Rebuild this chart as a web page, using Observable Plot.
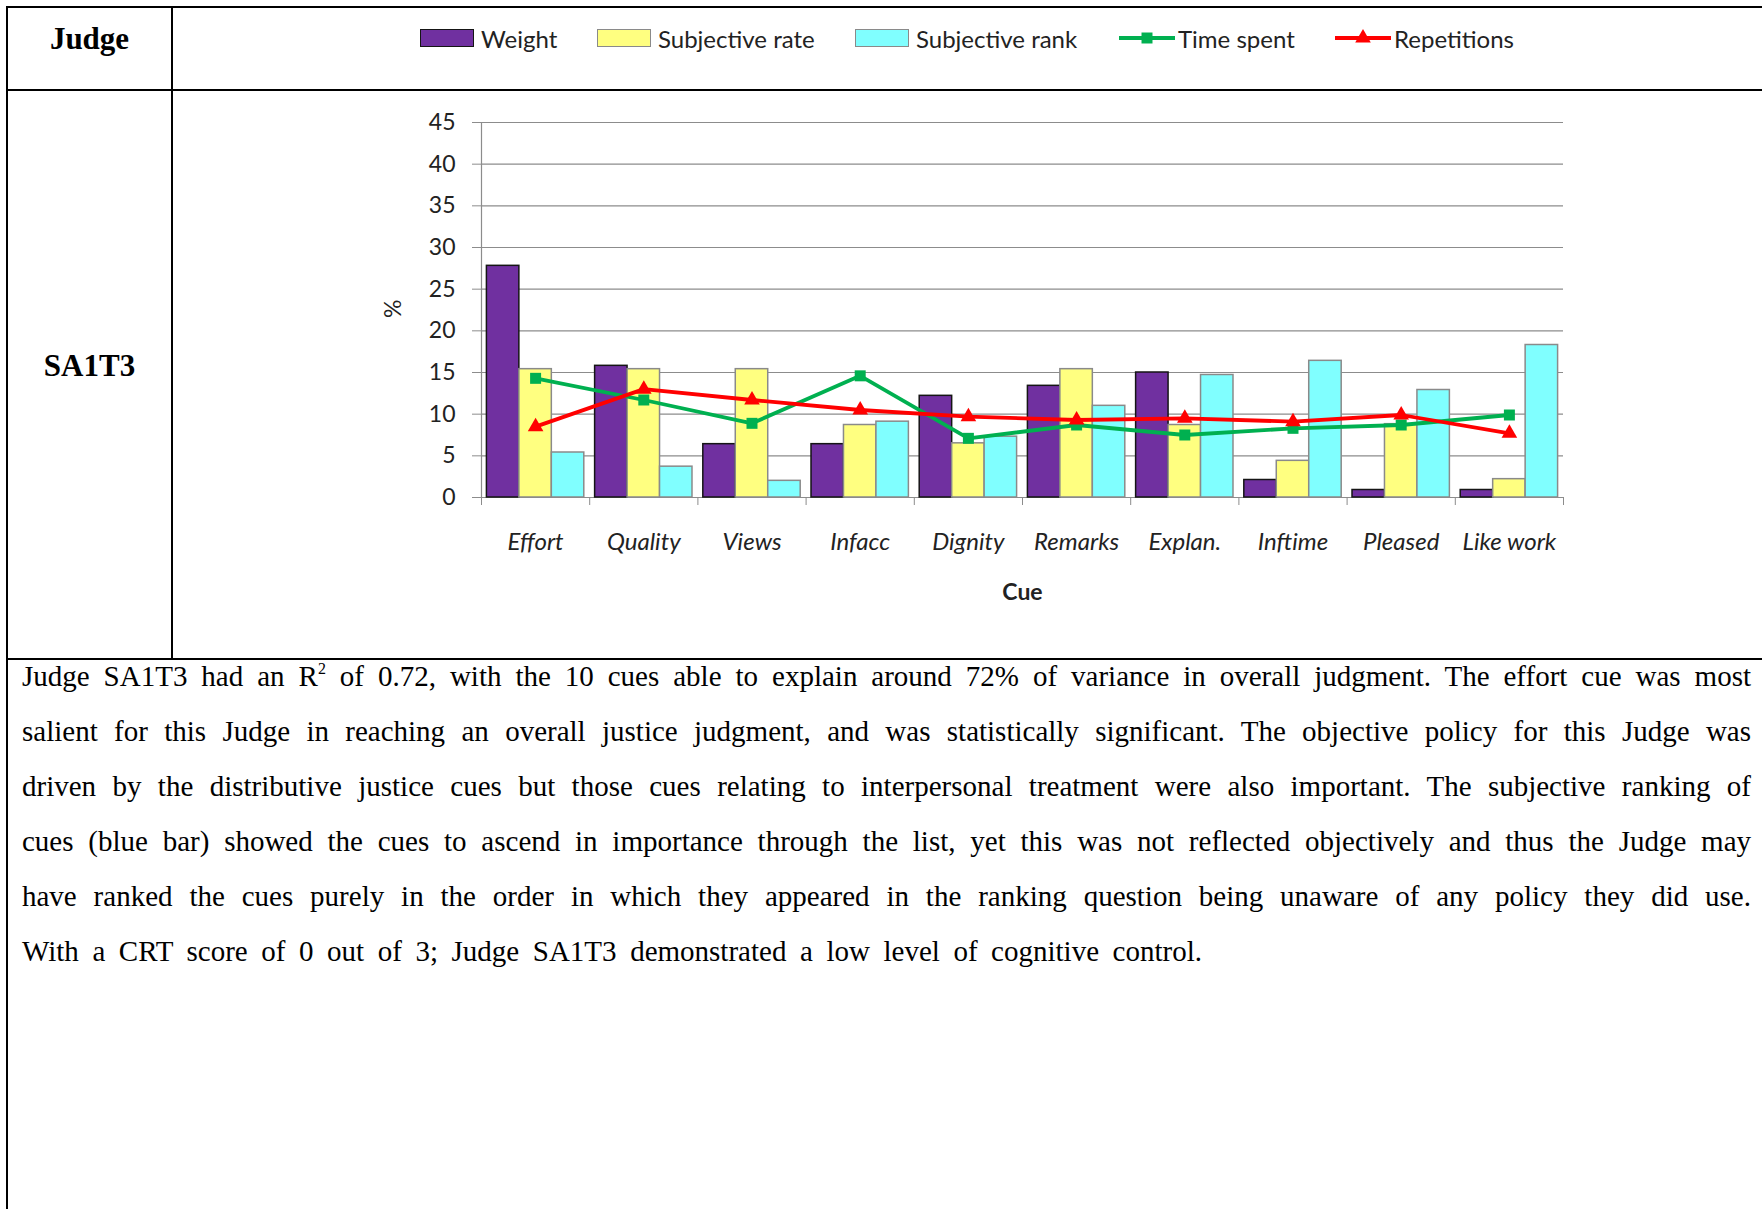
<!DOCTYPE html>
<html>
<head>
<meta charset="utf-8">
<script src="https://cdn.jsdelivr.net/npm/d3@7"></script>
<script src="https://cdn.jsdelivr.net/npm/@observablehq/plot@0.6"></script>
<style>
  html, body { margin: 0; padding: 0; background: #fff; }
  body { width: 1762px; height: 1209px; position: relative; overflow: hidden; }
  .hl { position: absolute; background: #000; }
  .cell { position: absolute; font-family: "Liberation Serif", "Times New Roman", serif; font-weight: bold; font-size: 31px; color: #000; text-align: center; line-height: 1; }
  #legend { position: absolute; left: 0; top: 0; width: 1762px; height: 88px; font-family: Lato, sans-serif; font-size: 24px; color: #222; }
  .li { position: absolute; top: 26px; height: 24px; display: flex; align-items: center; white-space: nowrap; }
  .sw { width: 52px; height: 16px; box-sizing: content-box; margin-right: 7px; }
  #chart { position: absolute; left: 360px; top: 100px; }
  #para { position: absolute; left: 22px; top: 649px; font-family: "Liberation Serif", "Times New Roman", serif; font-size: 29px; line-height: 55px; color: #000; }
  .ln { white-space: nowrap; text-align: justify; text-align-last: justify; }
  .ln sup { font-size: 0.55em; line-height: 0; vertical-align: 0.75em; }
</style>
</head>
<body>
<!-- table rules -->
<div class="hl" style="left:6px; top:6px; width:1756px; height:2px;"></div>
<div class="hl" style="left:6px; top:89px; width:1756px; height:2px;"></div>
<div class="hl" style="left:6px; top:658px; width:1756px; height:2px;"></div>
<div class="hl" style="left:6px; top:6px; width:2px; height:1203px;"></div>
<div class="hl" style="left:171px; top:6px; width:2px; height:654px;"></div>

<div class="cell" style="left:8px; width:163px; top:23px;">Judge</div>
<div class="cell" style="left:8px; width:163px; top:350px;">SA1T3</div>

<div id="legend"></div>
<div id="chart"></div>

<div id="para">
  <div class="ln" style="width:1729px;">Judge SA1T3 had an R<sup>2</sup> of 0.72, with the 10 cues able to explain around 72% of variance in overall judgment. The effort cue was most</div>
  <div class="ln" style="width:1729px;">salient for this Judge in reaching an overall justice judgment, and was statistically significant. The objective policy for this Judge was</div>
  <div class="ln" style="width:1729px;">driven by the distributive justice cues but those cues relating to interpersonal treatment were also important. The subjective ranking of</div>
  <div class="ln" style="width:1729px;">cues (blue bar) showed the cues to ascend in importance through the list, yet this was not reflected objectively and thus the Judge may</div>
  <div class="ln" style="width:1729px;">have ranked the cues purely in the order in which they appeared in the ranking question being unaware of any policy they did use.</div>
  <div class="ln" style="width:1180px;">With a CRT score of 0 out of 3; Judge SA1T3 demonstrated a low level of cognitive control.</div>
</div>

<script>
// ---------------- data ----------------
const cues = ["Effort", "Quality", "Views", "Infacc", "Dignity", "Remarks", "Explan.", "Inftime", "Pleased", "Like work"];
const weight         = [27.8, 15.8, 6.4, 6.4, 12.2, 13.4, 15.0, 2.1, 0.9, 0.9];
const subjectiveRate = [15.4, 15.4, 15.4, 8.7, 6.5, 15.4, 8.7, 4.4, 8.8, 2.2];
const subjectiveRank = [5.4, 3.7, 2.0, 9.1, 7.3, 11.0, 14.7, 16.4, 12.9, 18.3];
const timeSpent      = [14.3, 11.7, 8.9, 14.6, 7.1, 8.7, 7.5, 8.3, 8.7, 9.9];
const repetitions    = [8.5, 13.0, 11.7, 10.5, 9.7, 9.3, 9.5, 9.1, 9.9, 7.7];
const yTicks = [0, 5, 10, 15, 20, 25, 30, 35, 40, 45];
const seriesNames = ["Weight", "Subjective rate", "Subjective rank", "Time spent", "Repetitions"];
const xLabel = "Cue";
const yLabel = "%";

// ---------------- styles ----------------
const seriesColors = ["#7030A0", "#FFFF80", "#80FFFF", "#00B050", "#FF0000"];
const barStrokes = ["#151515", "#8a8a8a", "#8a8a8a"];
const gridColor = "#8c8c8c";

// ---------------- tables ----------------
const barSeries = [weight, subjectiveRate, subjectiveRank];
const lineSeries = [timeSpent, repetitions];
const symbols = ["square", "triangle"];
const slot = 0.3, gap = 0.05; // fraction of a category band

const barMarks = barSeries.map((vals, k) =>
  Plot.rect(cues.map((cue, i) => ({cue, i, v: vals[i]})), {
    x1: d => d.i - 0.5 + gap + k * slot,
    x2: d => d.i - 0.5 + gap + (k + 1) * slot,
    y1: () => 0,
    y2: "v",
    fill: seriesColors[k],
    stroke: barStrokes[k],
    strokeWidth: 1.5
  })
);

const lineMarks = lineSeries.flatMap((vals, k) => {
  const data = cues.map((cue, i) => ({cue, i, v: vals[i]}));
  return [
    Plot.line(data, {x: "i", y: "v", stroke: seriesColors[3 + k], strokeWidth: 3.8}),
    Plot.dot(data, {x: "i", y: "v", symbol: symbols[k], r: k === 0 ? 6.2 : 5.8, fill: seriesColors[3 + k], stroke: "none"})
  ];
});

const chart = Plot.plot({
  width: 1230,
  height: 520,
  marginLeft: 121,
  marginRight: 27,
  marginTop: 22,
  marginBottom: 123,
  x: {type: "linear", domain: [-0.5, cues.length - 0.5]},
  y: {domain: [0, 45]},
  style: {fontFamily: "Lato, sans-serif", fontSize: "22px", color: "#222", background: "transparent", overflow: "visible"},
  marks: [
    Plot.gridY(yTicks, {stroke: gridColor, strokeOpacity: 1, strokeWidth: 1.2}),
    Plot.axisY(yTicks, {tickSize: 9, tickPadding: 17, stroke: gridColor, fontSize: 23, label: null}),
    Plot.ruleX([-0.5], {stroke: gridColor, strokeWidth: 1.2}),
    Plot.axisX(d3.range(cues.length + 1).map(i => i - 0.5), {tickSize: 8, tickFormat: () => "", stroke: gridColor, label: null}),
    Plot.axisX(d3.range(cues.length), {tickSize: 0, tickPadding: 35, tickFormat: i => cues[i], fontStyle: "italic", fontSize: 24, letterSpacing: "0.6px", label: null}),
    ...barMarks,
    ...lineMarks,
    Plot.text([xLabel], {frameAnchor: "bottom", dy: 102, fontWeight: "bold", fontSize: 23, fill: "#222"}),
    Plot.text([yLabel], {frameAnchor: "left", dx: -88, dy: 8, rotate: -90, fontSize: 23, fill: "#222"})
  ]
});
document.getElementById("chart").appendChild(chart);

// ---------------- legend ----------------
const legend = document.getElementById("legend");
const legendLeft = [420, 597, 855, 1118, 1334];
seriesNames.forEach((name, k) => {
  const item = document.createElement("div");
  item.className = "li";
  item.style.left = legendLeft[k] + "px";
  if (k < 3) {
    const sw = document.createElement("div");
    sw.className = "sw";
    sw.style.background = seriesColors[k];
    sw.style.border = "1.5px solid " + barStrokes[k];
    item.appendChild(sw);
  } else {
    const ns = "http://www.w3.org/2000/svg";
    const svg = document.createElementNS(ns, "svg");
    svg.setAttribute("width", 58);
    svg.setAttribute("height", 24);
    svg.style.marginRight = "2px";
    const ln = document.createElementNS(ns, "line");
    ln.setAttribute("x1", 1); ln.setAttribute("x2", 57);
    ln.setAttribute("y1", 12); ln.setAttribute("y2", 12);
    ln.setAttribute("stroke", seriesColors[k]); ln.setAttribute("stroke-width", 3.8);
    svg.appendChild(ln);
    const p = document.createElementNS(ns, "path");
    p.setAttribute("d", d3.symbol(k === 3 ? d3.symbolSquare : d3.symbolTriangle, k === 3 ? 6.2 * 6.2 * Math.PI : 5.8 * 5.8 * Math.PI)());
    p.setAttribute("transform", "translate(29,12)");
    p.setAttribute("fill", seriesColors[k]);
    svg.appendChild(p);
    item.appendChild(svg);
  }
  const t = document.createElement("span");
  t.textContent = name;
  item.appendChild(t);
  legend.appendChild(item);
});
</script>
</body>
</html>
